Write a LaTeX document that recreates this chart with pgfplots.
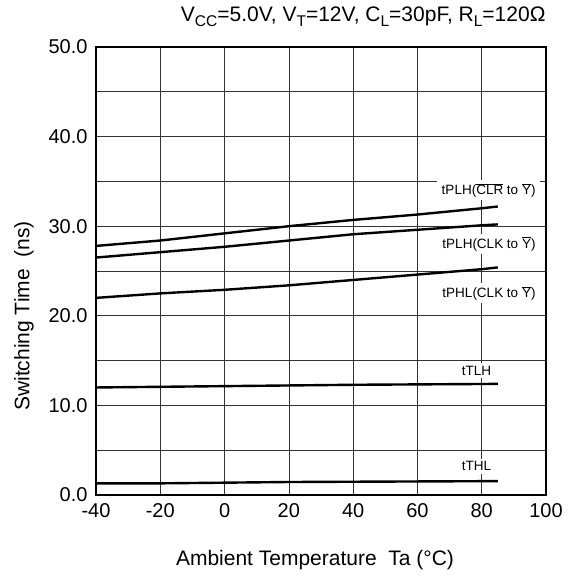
\documentclass[border=0pt]{standalone}
\usepackage{pgfplots}
\pgfplotsset{compat=1.18}
\usepackage{fontspec}
\setmainfont{Liberation Sans}
\newcommand{\ov}[1]{$\overline{\mbox{#1}}$}
\newcommand{\sub}[1]{\raisebox{-0.22em}{\fontsize{15.5}{17}\selectfont #1}}
\begin{document}
\begin{tikzpicture}
\begin{axis}[
  name=ax,
  scale only axis,
  width=450pt, height=448pt,
  xmin=-40, xmax=100, ymin=0, ymax=50,
  xtick={-40,-20,...,100},
  ytick={0,5,...,50},
  yticklabels={0.0,,10.0,,20.0,,30.0,,40.0,,50.0},
  grid=major,
  major grid style={black!80, line width=0.7pt},
  major tick length=0pt,
  axis line style={line width=1.8pt},
  ticklabel style={font=\fontsize{20}{22}\selectfont},
  /pgf/number format/assume math mode=true,
  xticklabel style={yshift=-5pt},
  yticklabel style={xshift=-5pt},
  clip=false,
]
\addplot[black, line width=2.4pt] coordinates {(-40,27.8) (-20,28.4) (0,29.2) (20,30.0) (40,30.7) (60,31.3) (80,32.0) (85,32.2)};
\addplot[black, line width=2.4pt] coordinates {(-40,26.5) (-20,27.1) (0,27.7) (20,28.4) (40,29.1) (60,29.6) (80,30.1) (85,30.2)};
\addplot[black, line width=2.4pt] coordinates {(-40,22.0) (-20,22.5) (0,22.9) (20,23.4) (40,24.0) (60,24.6) (80,25.2) (85,25.4)};
\addplot[black, line width=2.4pt] coordinates {(-40,12.0) (0,12.15) (40,12.3) (85,12.4)};
\addplot[black, line width=2.4pt] coordinates {(-40,1.3) (-20,1.3) (20,1.45) (85,1.55)};
\tikzset{lab/.style={fill=white, inner xsep=4.5pt, inner ysep=3pt, anchor=east, font=\fontsize{13.5}{15}\selectfont}}
\node[lab] at (axis cs:98.2,34.0) {tPLH(\ov{CLR} to \ov{Y})};
\node[lab] at (axis cs:98.2,28.0) {tPLH(CLK to \ov{Y})};
\node[lab] at (axis cs:98.2,22.5) {tPHL(CLK to \ov{Y})};
\node[lab, anchor=center, inner xsep=7pt] at (axis cs:78.4,13.9) {tTLH};
\node[lab, anchor=center, inner xsep=7pt] at (axis cs:78.4,3.2) {tTHL};
\end{axis}
\node[anchor=east, font=\fontsize{21}{23}\selectfont] at ([xshift=3pt,yshift=30pt]ax.north east) {V\sub{CC}=5.0V, V\sub{T}=12V, C\sub{L}=30pF, R\sub{L}=120Ω};
\node[rotate=90, font=\fontsize{21}{23}\selectfont] at ([xshift=-72pt,yshift=-45pt]ax.west) {Switching Time\ \ (ns)};
\node[font=\fontsize{21}{23}\selectfont] at ([xshift=-6pt,yshift=-65pt]ax.south) {Ambient Temperature\ \ Ta (°C)};
\pgfresetboundingbox
\useasboundingbox ([xshift=-96pt,yshift=-84pt]ax.south west) rectangle ([xshift=24pt,yshift=47pt]ax.north east);
\end{tikzpicture}
\end{document}
